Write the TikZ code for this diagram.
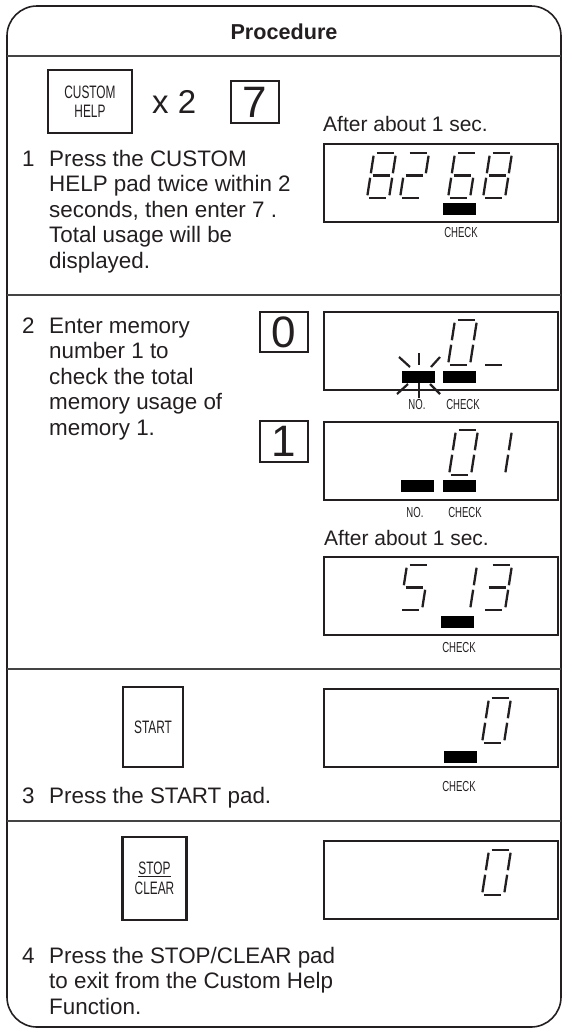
\documentclass[tikz,border=0pt]{standalone}
\usepackage{fontspec}
\setmainfont{Liberation Sans}
\usepackage{graphicx}
\definecolor{ink}{HTML}{231F20}
\definecolor{rule}{HTML}{444444}
\newcommand{\lcdseg}[6]{\draw[segline] ({#1+#3*22+#4*7},{#2-#4*45}) -- ({#1+#5*22+#6*7},{#2-#6*45});}
\newcommand{\lsA}[2]{\lcdseg{#1}{#2}{0.12}{1}{0.9}{1}}
\newcommand{\lsB}[2]{\lcdseg{#1}{#2}{1}{0.94}{1}{0.55}}
\newcommand{\lsC}[2]{\lcdseg{#1}{#2}{1}{0.45}{1}{0.06}}
\newcommand{\lsD}[2]{\lcdseg{#1}{#2}{0.1}{0}{0.88}{0}}
\newcommand{\lsE}[2]{\lcdseg{#1}{#2}{0}{0.06}{0}{0.45}}
\newcommand{\lsF}[2]{\lcdseg{#1}{#2}{0}{0.55}{0}{0.94}}
\newcommand{\lsG}[2]{\lcdseg{#1}{#2}{0.1}{0.5}{0.9}{0.5}}
\newcommand{\lcddigit}[3]{\foreach \q in {#3}{\csname ls\q\endcsname{#1}{#2}}}
\tikzset{
  body/.style={anchor=base west, inner sep=0pt, text=ink, font=\fontsize{22.4}{26}\selectfont},
  padbox/.style={draw=ink, line width=2.6pt, inner sep=0pt, align=center, text=ink, font=\fontsize{18}{19.5}\selectfont},
  keybox/.style={draw=ink, line width=2.6pt, inner sep=0pt, text=ink, font=\fontsize{44}{44}\selectfont},
  lcdbox/.style={draw=ink, line width=1.5pt, inner sep=0pt, anchor=north west, minimum width=234pt, minimum height=78pt},
  segline/.style={draw=ink, line width=2.3pt},
  lbl/.style={inner sep=0pt, text=ink, font=\fontsize{14.5}{15}\selectfont},
  ray/.style={draw=ink, line width=2.2pt},
  divider/.style={draw=rule, line width=1.6pt},
}
\newcommand{\cnd}[1]{\scalebox{0.66}[1]{#1}}
\begin{document}
\begin{tikzpicture}[x=1pt,y=-1pt]
\useasboundingbox (0,0) rectangle (568,1034);
% frame
\draw[ink, line width=1.6pt, rounded corners=30pt] (7,6) rectangle (561,1027);
\draw[divider] (7,56) -- (561,56);
\draw[divider] (7,295) -- (561,295);
\draw[divider] (7,669) -- (561,669);
\draw[divider] (7,821) -- (561,821);
\node[anchor=base, inner sep=0pt, text=ink, font=\bfseries\fontsize{21.6}{26}\selectfont] (title) at (284,39) {Procedure};

% ---------- step 1
\node[padbox, minimum width=84pt, minimum height=63pt] (custom) at (90,101.5) {\cnd{CUSTOM}\\\cnd{HELP}};
\node[anchor=base west, inner sep=0pt, text=ink, font=\fontsize{33}{33}\selectfont] (times) at (152,113) {x 2};
\node[keybox, minimum width=48pt, minimum height=42pt] (seven) at (255,102) {7};
\node[body] (n1) at (22,166) {1};
\node[body] (s1a) at (49,166) {Press the CUSTOM};
\node[body] (s1b) at (49,191.5) {HELP pad twice within 2};
\node[body] (s1c) at (49,217) {seconds, then enter 7 .};
\node[body] (s1d) at (49,242.5) {Total usage will be};
\node[body] (s1e) at (49,268) {displayed.};
\node[body, font=\fontsize{21}{26}\selectfont] (after1) at (323,131) {After about 1 sec.};
\node[lcdbox] (d1) at (323,143) {};
\lcddigit{367}{198}{A,B,C,D,E,F,G}
\lcddigit{400}{198}{A,B,G,E,D}
\lcddigit{448}{198}{A,F,G,E,C,D}
\lcddigit{483}{198}{A,B,C,D,E,F,G}
\fill[black] (443,203) rectangle (476,215);
\node[lbl] (d1chk) at (461,233) {\cnd{CHECK}};

% ---------- step 2
\node[body] (n2) at (22,333) {2};
\node[body] (s2a) at (49,333) {Enter memory};
\node[body] (s2b) at (49,358.5) {number 1 to};
\node[body] (s2c) at (49,384) {check the total};
\node[body] (s2d) at (49,409.5) {memory usage of};
\node[body] (s2e) at (49,435) {memory 1.};
\node[keybox, minimum width=48pt, minimum height=40pt] (zero) at (284,332) {0};
\node[keybox, minimum width=48pt, minimum height=41pt] (one) at (284,441.5) {1};
% display A
\node[lcdbox] (dA) at (323,311) {};
\lcddigit{448}{365}{A,B,C,D,E,F}
\lcddigit{483}{365}{D}
\fill[black] (402,371) rectangle (435,383);
\fill[black] (443,371) rectangle (476,383);
\draw[ray] (419,353) -- (419,365);
\draw[ray] (399,357) -- (410,367);
\draw[ray] (440,357) -- (431,367);
\draw[ray] (419,383) -- (419,398);
\draw[ray] (408,384) -- (397,394);
\draw[ray] (430,384) -- (440,394);
\node[lbl] (dAno) at (417,405) {\cnd{NO.}};
\node[lbl] (dAchk) at (463,405) {\cnd{CHECK}};
% display B
\node[lcdbox] (dB) at (323,421) {};
\lcddigit{449}{475}{A,B,C,D,E,F}
\lcddigit{483}{475}{B,C}
\fill[black] (401,480) rectangle (434,492);
\fill[black] (443,480) rectangle (476,492);
\node[lbl] (dBno) at (415,513) {\cnd{NO.}};
\node[lbl] (dBchk) at (465,513) {\cnd{CHECK}};
\node[body, font=\fontsize{21}{26}\selectfont] (after2) at (324,545) {After about 1 sec.};
% display C
\node[lcdbox] (dC) at (323,556) {};
\lcddigit{400}{610}{A,F,G,C,D}
\lcddigit{448}{610}{B,C}
\lcddigit{483}{610}{A,B,G,C,D}
\fill[black] (441,616) rectangle (474,628);
\node[lbl] (dCchk) at (459,647) {\cnd{CHECK}};

% ---------- step 3
\node[padbox, minimum width=60pt, minimum height=80pt] (start) at (153,727) {\cnd{START}};
\node[lbl] (s3chk) at (459,786) {\cnd{CHECK}};
\node[lcdbox] (d3) at (323,688) {};
\lcddigit{482}{743}{A,B,C,D,E,F}
\fill[black] (444,751) rectangle (477,763);
\node[body] (n3) at (22,803) {3};
\node[body] (s3a) at (49,803) {Press the START pad.};

% ---------- step 4
\node[padbox, minimum width=64pt, minimum height=83pt] (stop) at (154.5,878.5) {\cnd{\underline{STOP}}\\\cnd{CLEAR}};
\node[lcdbox] (d4) at (323,840) {};
\lcddigit{482}{895}{A,B,C,D,E,F}
\node[body] (n4) at (22,963) {4};
\node[body] (s4a) at (49,963) {Press the STOP/CLEAR pad};
\node[body] (s4b) at (49,988.5) {to exit from the Custom Help};
\node[body] (s4c) at (49,1014) {Function.};
\end{tikzpicture}
\end{document}
